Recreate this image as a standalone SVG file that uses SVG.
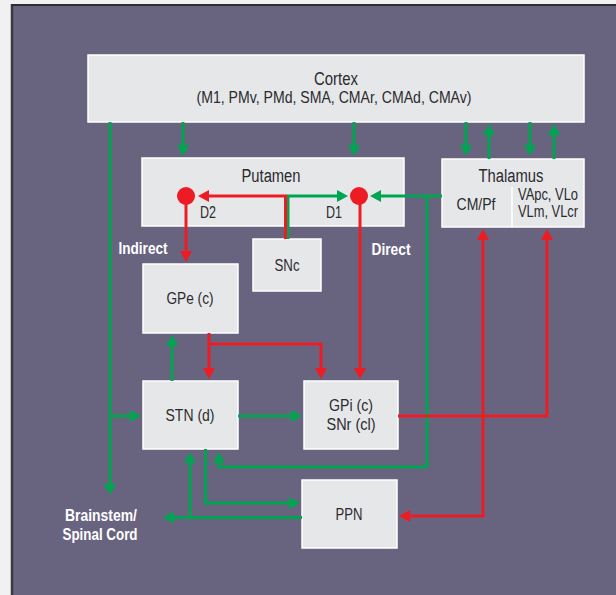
<svg xmlns="http://www.w3.org/2000/svg" width="616" height="595" viewBox="0 0 616 595">
<style>
.box{fill:#e6e7e9;stroke:#ffffff;stroke-width:1.5}
.t{font-family:"Liberation Sans",Arial,sans-serif;fill:#2b2b2e;text-anchor:middle}
.lbl{font-family:"Liberation Sans",Arial,sans-serif;fill:#ffffff;font-weight:bold;text-anchor:middle}
.g{fill:none;stroke:#00a551;stroke-width:3}
.r{fill:none;stroke:#ed1c24;stroke-width:3}
</style>
<defs>
<marker id="ag" viewBox="0 0 11 12" refX="1" refY="6" markerWidth="11" markerHeight="12" markerUnits="userSpaceOnUse" orient="auto"><path d="M0,0 L11,6 L0,12 z" fill="#00a551"/></marker>
<marker id="ar" viewBox="0 0 11 12" refX="1" refY="6" markerWidth="11" markerHeight="12" markerUnits="userSpaceOnUse" orient="auto"><path d="M0,0 L11,6 L0,12 z" fill="#ed1c24"/></marker>
</defs>
<rect x="0" y="0" width="616" height="595" fill="#f1f1f1"/>
<rect x="12" y="5" width="606" height="592" fill="#686480"/>
<line x1="12" y1="4" x2="12" y2="595" stroke="#3a3a3c" stroke-width="2.5"/>
<line x1="11" y1="5" x2="616" y2="5" stroke="#2e2e30" stroke-width="2"/>

<g id="cortex">
<rect class="box" x="88" y="55" width="496" height="67"/>
<text class="t" x="336" y="85" font-size="18" textLength="44" lengthAdjust="spacingAndGlyphs">Cortex</text>
<text class="t" x="334" y="103" font-size="17" textLength="275" lengthAdjust="spacingAndGlyphs">(M1, PMv, PMd, SMA, CMAr, CMAd, CMAv)</text>
</g>

<g id="putamen">
<rect class="box" x="142" y="158" width="262" height="68"/>
<text class="t" x="271" y="182" font-size="18" textLength="59" lengthAdjust="spacingAndGlyphs">Putamen</text>
<text class="t" x="208" y="218" font-size="16" textLength="16" lengthAdjust="spacingAndGlyphs">D2</text>
<text class="t" x="334" y="218" font-size="16" textLength="16" lengthAdjust="spacingAndGlyphs">D1</text>
</g>

<g id="thalamus">
<rect class="box" x="442" y="159" width="142" height="68"/>
<line x1="512" y1="187" x2="512" y2="227" stroke="#ffffff" stroke-width="1.5"/>
<text class="t" x="511" y="182" font-size="18" textLength="65" lengthAdjust="spacingAndGlyphs">Thalamus</text>
<text class="t" x="476" y="210" font-size="17" textLength="39" lengthAdjust="spacingAndGlyphs">CM/Pf</text>
<text class="t" x="548" y="200" font-size="16" textLength="60" lengthAdjust="spacingAndGlyphs">VApc, VLo</text>
<text class="t" x="548" y="217" font-size="16" textLength="60" lengthAdjust="spacingAndGlyphs">VLm, VLcr</text>
</g>

<g id="snc">
<rect class="box" x="253" y="239" width="68" height="52"/>
<text class="t" x="287" y="271" font-size="17" textLength="25" lengthAdjust="spacingAndGlyphs">SNc</text>
</g>

<g id="gpe">
<rect class="box" x="143" y="264" width="95" height="69"/>
<text class="t" x="190" y="304" font-size="17" textLength="47" lengthAdjust="spacingAndGlyphs">GPe (c)</text>
</g>

<g id="stn">
<rect class="box" x="143" y="381" width="95" height="68"/>
<text class="t" x="190" y="421" font-size="17" textLength="49" lengthAdjust="spacingAndGlyphs">STN (d)</text>
</g>

<g id="gpi">
<rect class="box" x="304" y="381" width="94" height="68"/>
<text class="t" x="351" y="411" font-size="17" textLength="44" lengthAdjust="spacingAndGlyphs">GPi (c)</text>
<text class="t" x="351" y="430" font-size="17" textLength="49" lengthAdjust="spacingAndGlyphs">SNr (cl)</text>
</g>

<g id="ppn">
<rect class="box" x="302" y="480" width="95" height="68"/>
<text class="t" x="349" y="520" font-size="17" textLength="27" lengthAdjust="spacingAndGlyphs">PPN</text>
</g>

<g id="connectors">
<path class="g" d="M183,122 V146" marker-end="url(#ag)"/>
<path class="g" d="M354,122 V146" marker-end="url(#ag)"/>
<path class="g" d="M466,122 V146" marker-end="url(#ag)"/>
<path class="g" d="M489,159 V134" marker-end="url(#ag)"/>
<path class="g" d="M530,122 V146" marker-end="url(#ag)"/>
<path class="g" d="M554,159 V134" marker-end="url(#ag)"/>
<path class="g" d="M110,122 V485" marker-end="url(#ag)"/>
<path class="g" d="M110,416 H131" marker-end="url(#ag)"/>
<path class="g" d="M288,239 V196 H338" marker-end="url(#ag)"/>
<path class="g" d="M442,196 H380" marker-end="url(#ag)"/>
<path class="g" d="M427,196 V467 H219 V462" marker-end="url(#ag)"/>
<path class="g" d="M172,381 V345" marker-end="url(#ag)"/>
<path class="g" d="M238,416 H292" marker-end="url(#ag)"/>
<path class="g" d="M205.5,449 V503 H290" marker-end="url(#ag)"/>
<path class="g" d="M302,517.5 H173" marker-end="url(#ag)"/>
<path class="g" d="M190,517.5 V462" marker-end="url(#ag)"/>
<path class="r" d="M285.5,239 V196 H208" marker-end="url(#ar)"/>
<path class="r" d="M186,196 V252" marker-end="url(#ar)"/>
<path class="r" d="M360,196 V369" marker-end="url(#ar)"/>
<path class="r" d="M209,333 V369" marker-end="url(#ar)"/>
<path class="r" d="M209,344 H321 V369" marker-end="url(#ar)"/>
<path class="r" d="M398,416 H547 V239" marker-end="url(#ar)"/>
<path class="r" d="M483,516 V239" marker-end="url(#ar)"/>
<path class="r" d="M484.5,516 H409" marker-end="url(#ar)"/>
</g>

<g id="d-dots">
<circle cx="186" cy="196" r="9" fill="#ed1c24"/>
<circle cx="359" cy="196" r="9" fill="#ed1c24"/>
</g>

<g id="labels">
<text class="lbl" x="143" y="254" font-size="16.5" textLength="49" lengthAdjust="spacingAndGlyphs">Indirect</text>
<text class="lbl" x="391" y="255" font-size="16.5" textLength="39" lengthAdjust="spacingAndGlyphs">Direct</text>
<text class="lbl" x="101" y="521" font-size="17" textLength="72" lengthAdjust="spacingAndGlyphs">Brainstem/</text>
<text class="lbl" x="100" y="540" font-size="16.5" textLength="75" lengthAdjust="spacingAndGlyphs">Spinal Cord</text>
</g>
</svg>
